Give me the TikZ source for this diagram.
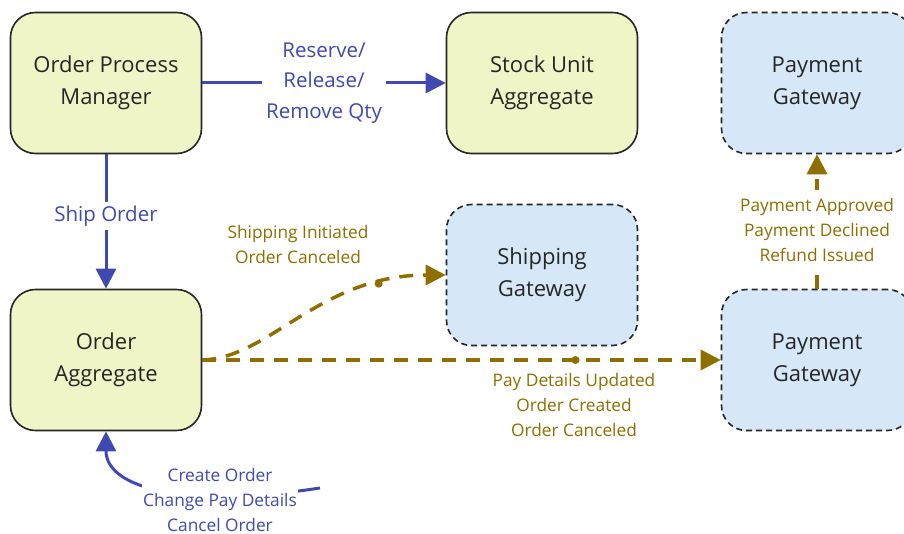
\documentclass[tikz,border=0pt]{standalone}
\usepackage{fontspec}
\setmainfont{Open Sans}
\usetikzlibrary{arrows.meta,
                positioning
                }
\definecolor{cmdblue}{HTML}{4049B0}
\definecolor{evtolive}{HTML}{8F6E00}
\definecolor{aggfill}{HTML}{EFF5C6}
\definecolor{gwfill}{HTML}{D6E8F8}

\begin{document}
\begin{tikzpicture}[
        x = 1pt, y = -1pt,
        box/.style = {draw=black!85, line width=1.6pt, rounded corners=25pt,
                      minimum width=191pt, minimum height=141pt, align=center,
                      font=\fontsize{22}{32}\selectfont, text=black!85},
        aggr/.style = {box, fill=aggfill},
        gway/.style = {box, fill=gwfill, dashed, dash pattern=on 6pt off 4pt},
        cmd/.style = {draw=cmdblue, line width=3pt, -{Triangle[length=20pt,width=20pt]}},
        evt/.style = {draw=evtolive, line width=3.5pt, dash pattern=on 14pt off 10pt,
                      -{Triangle[length=20pt,width=20pt]}},
        cmdlbl/.style = {text=cmdblue, align=center, fill=white, inner sep=4pt,
                         font=\fontsize{20.5}{30.5}\selectfont},
        evtlbl/.style = {text=evtolive, align=center, inner sep=3pt,
                         font=\fontsize{17.3}{25}\selectfont},
        dot/.style = {circle, fill=evtolive, inner sep=0pt, minimum size=8pt}
    ]
    \useasboundingbox (0,0) rectangle (904,534);
    \clip (0,0) rectangle (904,534);

    % aggregates and gateways
    \node (opm)  [aggr] at (106,83)  {Order Process\\Manager};
    \node (stock)[aggr] at (542,83)  {Stock Unit\\Aggregate};
    \node (order)[aggr] at (106,360) {Order\\Aggregate};
    \node (ship) [gway] at (542,275) {Shipping\\Gateway};
    \node (payT) [gway] at (817,83)  {Payment\\Gateway};
    \node (payB) [gway] at (817,360) {Payment\\Gateway};

    % commands
    \draw[cmd] (opm.east) -- node[cmdlbl] {Reserve/\\Release/\\Remove Qty} (stock.west);
    \draw[cmd] (opm.south) -- node[cmdlbl, pos=0.46] {Ship Order} (order.north);
    \coordinate (ext) at (320,488);
    \draw[cmd] (ext) .. controls (190,508) and (106,490) .. (order.south);
    \node (extlbl) [cmdlbl, inner sep=1pt, font=\fontsize{17.3}{25}\selectfont]
        at (220,500) {Create Order\\Change Pay Details\\Cancel Order};

    % events
    \draw[evt] (order.east) .. controls (270,358) and (320,275) ..
        node[dot, pos=0.8] {} (ship.west);
    \node[evtlbl] at (298,245) {Shipping Initiated\\Order Canceled};
    \draw[evt] (order.east) -- node[dot, pos=0.72] {} (payB.west);
    \node[evtlbl] at (574,405) {Pay Details Updated\\Order Created\\Order Canceled};
    \draw[evt] (payB.north) -- node[evtlbl, fill=white, inner ysep=8pt, pos=0.44]
        {Payment Approved\\Payment Declined\\Refund Issued} (payT.south);
\end{tikzpicture}
\end{document}
